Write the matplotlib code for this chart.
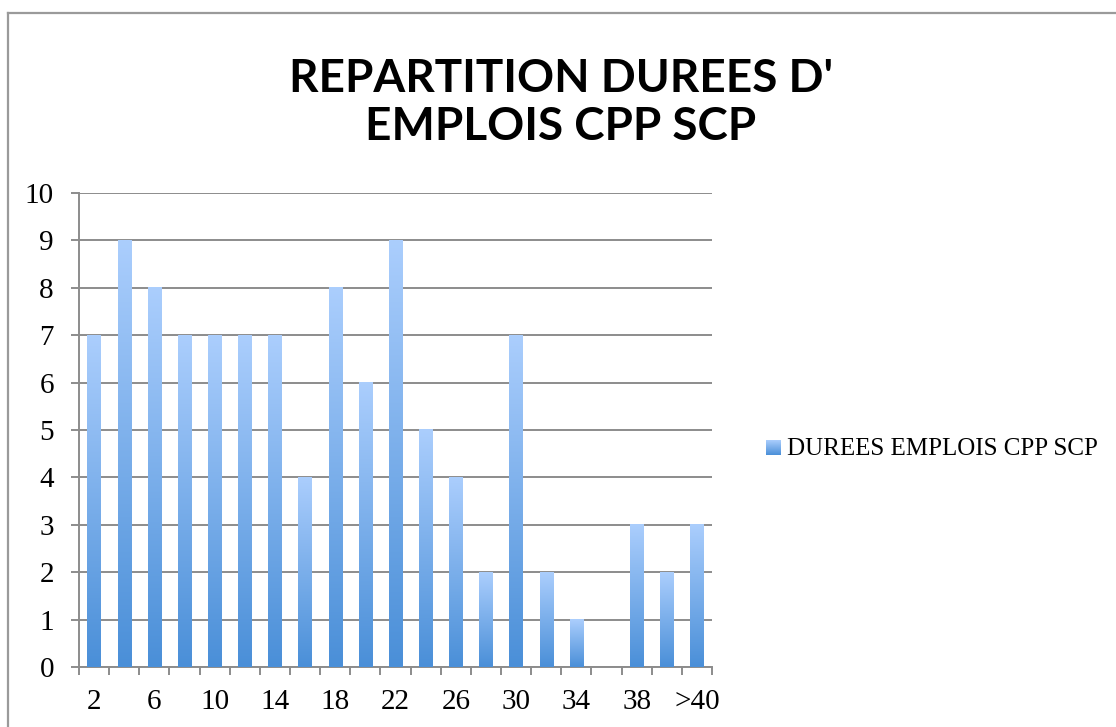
import matplotlib
matplotlib.use("Agg")
import matplotlib.pyplot as plt
import numpy as np
from matplotlib.colors import LinearSegmentedColormap
from matplotlib.lines import Line2D

categories = ["2", "4", "6", "8", "10", "12", "14", "16", "18", "20", "22",
              "24", "26", "28", "30", "32", "34", "36", "38", "40", ">40"]
values = [7, 9, 8, 7, 7, 7, 7, 4, 8, 6, 9, 5, 4, 2, 7, 2, 1, 0, 3, 2, 3]
title = "REPARTITION DUREES D'\nEMPLOIS CPP SCP"
series_name = "DUREES EMPLOIS CPP SCP"

W, H = 1116, 727
grid_color = "#8c8c8c"
grad = LinearSegmentedColormap.from_list("bar", ["#4a8fd8", "#abcefd"])

plt.rcParams["font.family"] = ["Liberation Serif", "DejaVu Serif"]
plt.rcParams["font.size"] = 18


def main():
    fig = plt.figure(figsize=(W / 100, H / 100), dpi=100)
    ax = fig.add_axes([79 / W, 1 - 667 / H, (712 - 79) / W, (667 - 193) / H])

    x = np.arange(len(categories))
    width = 0.44
    bars = ax.bar(x, values, width=width, color="none", edgecolor="none", zorder=3)
    ramp = np.linspace(0, 1, 256).reshape(-1, 1)
    for b in bars:
        h = b.get_height()
        if h <= 0:
            continue
        x0 = b.get_x()
        ax.imshow(ramp, cmap=grad, origin="lower", aspect="auto",
                  extent=(x0, x0 + width, 0, h), zorder=3)

    ax.set_xlim(-0.5, len(categories) - 0.5)
    ax.set_ylim(0, 10)
    ax.set_yticks(range(0, 11))
    ax.set_xticks(x[::2], labels=categories[::2])
    ax.set_xticks(np.arange(-0.5, len(categories), 1), minor=True)

    ax.yaxis.grid(True, color=grid_color, linewidth=1.4, zorder=0)
    ax.set_axisbelow(True)
    for side in ["top", "right"]:
        ax.spines[side].set_visible(False)
    for side in ["left", "bottom"]:
        ax.spines[side].set_color(grid_color)
        ax.spines[side].set_linewidth(1.4)
    ax.tick_params(axis="y", length=6, width=1.4, color=grid_color, pad=12,
                   labelsize=21)
    ax.tick_params(axis="x", which="major", length=0, pad=16, labelsize=21)
    ax.tick_params(axis="x", which="minor", length=6, width=1.4, color=grid_color)

    fig.text(561 / W, 1 - 103 / H, title, ha="center", va="center",
             fontsize=33, fontweight="bold", family=["Lato", "DejaVu Sans"],
             linespacing=1.2)

    # legend
    lax = fig.add_axes([766 / W, 1 - 455 / H, 15 / W, 15 / H])
    lax.imshow(ramp, cmap=grad, origin="lower", aspect="auto")
    lax.axis("off")
    fig.text(787 / W, 1 - 449 / H, series_name, ha="left", va="center",
             fontsize=18)

    # outer chart border
    fig.add_artist(Line2D([8 / W, 8 / W], [0, 1 - 13 / H], color="#9a9a9a",
                          linewidth=1.6, transform=fig.transFigure))
    fig.add_artist(Line2D([8 / W, 1], [1 - 13 / H, 1 - 13 / H], color="#9a9a9a",
                          linewidth=1.6, transform=fig.transFigure))

    fig.savefig("out.png", dpi=100)


if __name__ == "__main__":
    main()
